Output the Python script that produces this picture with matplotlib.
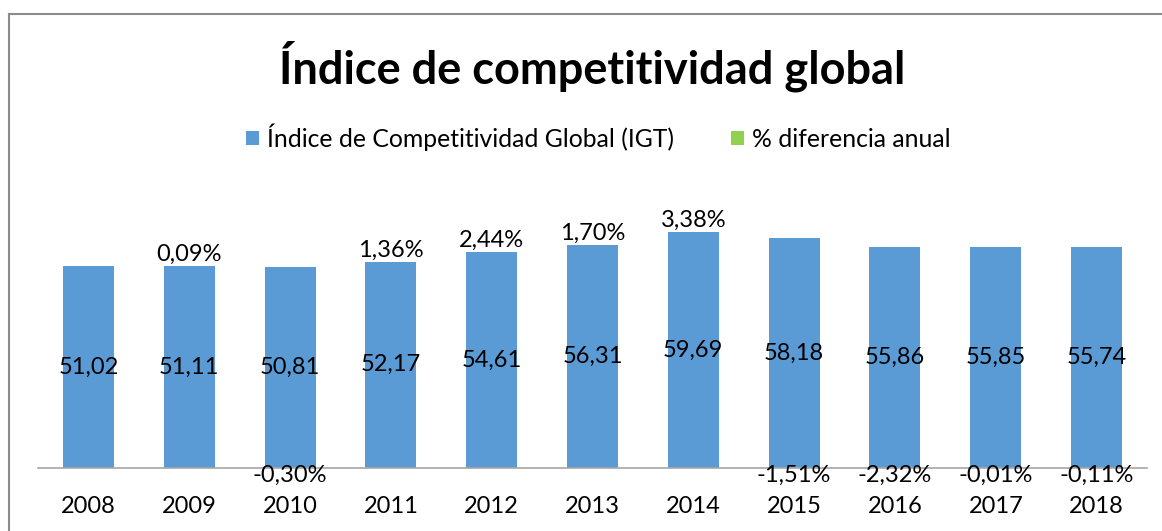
import matplotlib.pyplot as plt
from matplotlib.lines import Line2D
from matplotlib.patches import Patch

# datos
years = ['2008', '2009', '2010', '2011', '2012', '2013', '2014', '2015', '2016', '2017', '2018']
igt = [51.02, 51.11, 50.81, 52.17, 54.61, 56.31, 59.69, 58.18, 55.86, 55.85, 55.74]
pct_diff = [None, 0.09, -0.30, 1.36, 2.44, 1.70, 3.38, -1.51, -2.32, -0.01, -0.11]

BLUE = '#5B9BD5'
GREEN = '#92D050'

plt.rcParams['font.family'] = ['Lato', 'DejaVu Sans']


def fmt(v, pct=False):
    s = f"{v:.2f}".replace('.', ',')
    return s + '%' if pct else s


fig = plt.figure(figsize=(11.62, 5.31), dpi=100)
ax = fig.add_axes([38 / 1162, 63 / 531, 1109 / 1162, 277 / 531])

x = list(range(len(years)))
ax.bar(x, igt, width=0.505, color=BLUE, zorder=2)

# segmento % (muy pequeño, apilado sobre la barra)
green_vals = [(p or 0) / 100 for p in pct_diff]
bottoms = [b if g >= 0 else 0 for b, g in zip(igt, green_vals)]
ax.bar(x, green_vals, width=0.505, bottom=bottoms, color=GREEN, zorder=3)

FS = 17

# etiquetas de valor
for xi, v in zip(x, igt):
    ax.text(xi, v / 2, fmt(v), ha='center', va='center', fontsize=FS, color='black', zorder=4)

for xi, v, p in zip(x, igt, pct_diff):
    if p is None:
        continue
    if p >= 0:
        ax.annotate(fmt(p, True), (xi, v), xytext=(0, 1), textcoords='offset pixels',
                    ha='center', va='bottom', fontsize=FS, zorder=4)
    else:
        ax.annotate(fmt(p, True), (xi, 0), xytext=(0, -7), textcoords='offset pixels',
                    ha='center', va='center', fontsize=FS, zorder=4)

ax.set_xlim(-0.5, len(years) - 0.5)
ax.set_ylim(0, 70)
ax.set_xticks(x)
ax.set_xticklabels(years, fontsize=FS)
ax.tick_params(axis='x', length=0, pad=20)
ax.set_yticks([])
for side in ['top', 'right', 'left']:
    ax.spines[side].set_visible(False)
ax.spines['bottom'].set_color('#A6A6A6')
ax.spines['bottom'].set_linewidth(1.2)
ax.patch.set_visible(False)

fig.text(592 / 1162, 1 - 66 / 531, 'Índice de competitividad global', ha='center', va='center',
         fontsize=32.5, fontweight='bold')

handles = [Patch(facecolor=BLUE, label='Índice de Competitividad Global (IGT)'),
           Patch(facecolor=GREEN, label='% diferencia anual')]
fig.legend(handles=handles, loc='center', bbox_to_anchor=(598 / 1162, 1 - 137 / 531), ncol=2,
           frameon=False, fontsize=17.8, handlelength=0.55, handleheight=0.55,
           handletextpad=0.3, columnspacing=2.3)

# borde del gráfico
fig.add_artist(Line2D([9 / 1162, 1], [1 - 14 / 531] * 2, transform=fig.transFigure,
                      color='#8C8C8C', lw=1.5))
fig.add_artist(Line2D([9 / 1162] * 2, [0, 1 - 14 / 531], transform=fig.transFigure,
                      color='#8C8C8C', lw=1.5))

fig.savefig('out.png', dpi=100)
